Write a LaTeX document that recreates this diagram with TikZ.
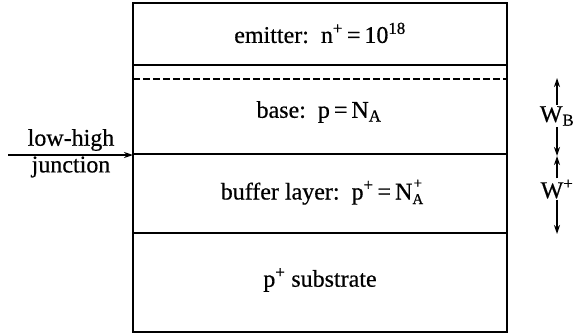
\documentclass[tikz,border=0pt]{standalone}
\usepackage{fontspec}
\setmainfont{Liberation Serif}[BoldFont={Liberation Serif},BoldFeatures={FakeBold=0.5}]
\usetikzlibrary{arrows.meta}
\newcommand{\stackNA}{N\raisebox{-4.5pt}{\fontsize{15}{15}\selectfont\begin{tabular}[b]{@{}c@{}}+\\[1pt]A\end{tabular}}}
\tikzset{
  layerline/.style={line width=1.9pt},
  frame/.style={line width=2.2pt},
  dashline/.style={line width=1.8pt, dash pattern=on 6.5pt off 3.5pt},
  lbl/.style={font=\fontsize{24}{26}\selectfont\bfseries, inner sep=1pt},
  arr/.style={line width=1.3pt, -{Stealth[length=9pt,width=6pt]}}
}
\begin{document}
\begin{tikzpicture}[x=1pt,y=-1pt]
\useasboundingbox (0,0) rectangle (580,333);
% frame
\coordinate (tl) at (133,3);
\coordinate (br) at (507,332);
\draw[frame] (tl) rectangle (br);
% interfaces
\coordinate (e1) at (133,65);  \coordinate (e2) at (507,65);
\coordinate (d1) at (133,79);  \coordinate (d2) at (507,79);
\coordinate (b1) at (133,154); \coordinate (b2) at (507,154);
\coordinate (s1) at (133,233); \coordinate (s2) at (507,233);
\draw[layerline] (e1) -- (e2);
\draw[dashline] (d1) -- (d2);
\draw[layerline] (b1) -- (b2);
\draw[layerline] (s1) -- (s2);
% layer labels
\node[lbl] (emit) at (320,33) {emitter:\ \ n\textsuperscript{+}\,=\,10\textsuperscript{18}};
\node[lbl] (base) at (319,112) {base:\ \ p\,=\,N\textsubscript{A}};
\node[lbl] (buf) at (322,193) {buffer layer:\ \ p\textsuperscript{+}\,=\,\stackNA};
\node[lbl] (sub) at (320,280) {p\textsuperscript{+} substrate};
% low-high junction
\node[lbl] (lh) at (71,140) {low-high};
\node[lbl] (jn) at (71,167) {junction};
\coordinate (jstart) at (8,155);
\coordinate (jend) at (133,155);
\draw[arr] (jstart) -- (jend);
% widths
\node[lbl] (wb) at (557,116) {W\textsubscript{B}};
\node[lbl] (wp) at (557,189) {W\textsuperscript{+}};
\coordinate (wbt) at (557,78);
\coordinate (mid) at (557,156);
\coordinate (wpb) at (557,234);
\draw[arr] (wb) -- (wbt);
\draw[arr] (wb) -- (mid);
\draw[arr] (wp) -- (mid);
\draw[arr] (wp) -- (wpb);
\end{tikzpicture}
\end{document}
